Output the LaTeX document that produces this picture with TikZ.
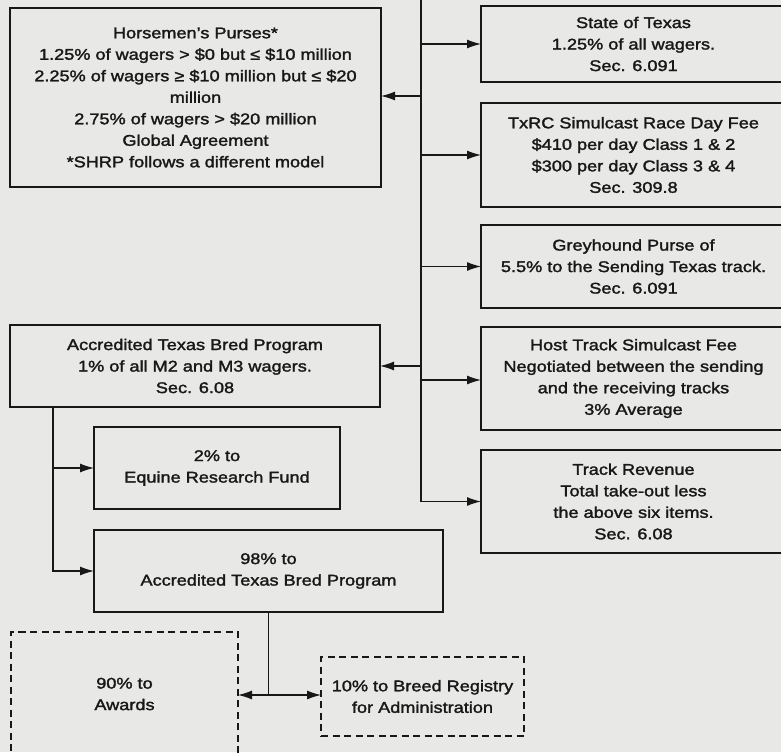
\documentclass[tikz,border=0pt]{standalone}
\usepackage{fontspec}
\setmainfont[FakeStretch=1.17,FakeBold=1.8]{Liberation Sans}
\usetikzlibrary{arrows.meta,calc}
\definecolor{paper}{RGB}{232,232,230}
\definecolor{ink}{RGB}{24,24,24}
\begin{document}
\begin{tikzpicture}[x=1pt,y=-1pt,
  txt/.style={align=center, inner sep=0pt, outer sep=0pt, text=ink, font=\fontsize{15.5}{21.5}\selectfont},
  box/.style={txt, draw=ink, line width=2pt},
  thinbox/.style={txt, draw=ink, line width=1.3pt},
  dbox/.style={txt, draw=ink, line width=1.3pt, dash pattern=on 7pt off 4.5pt},
  conn/.style={draw=ink, line width=1.2pt},
  arr/.style={conn, -{Latex[length=14pt,width=9pt]}}]
\fill[paper] (0,0) rectangle (781,752);
\useasboundingbox (0,0) rectangle (781,752);
\clip (0,0) rectangle (781,752);

% left column
\node[box, minimum width=371pt, minimum height=179pt] (hp) at (195.5,97.5)
  {Horsemen's Purses*\\
   1.25\% of wagers > \$0 but ≤ \$10 million\\
   2.25\% of wagers ≥ \$10 million but ≤ \$20\\
   million\\
   2.75\% of wagers > \$20 million\\
   Global Agreement\\
   *SHRP follows a different model};
\node[box, minimum width=370pt, minimum height=82pt] (atb) at (195,366)
  {Accredited Texas Bred Program\\ 1\% of all M2 and M3 wagers.\\ Sec. 6.08};
\node[thinbox, minimum width=246pt, minimum height=82pt] (erf) at (217,468)
  {2\% to\\ Equine Research Fund};
\node[thinbox, minimum width=349pt, minimum height=82pt] (p98) at (268.5,571)
  {98\% to\\ Accredited Texas Bred Program};
\node[dbox, minimum width=227pt, minimum height=124pt] (aw) at (124.5,694)
  {90\% to\\ Awards};
\node[dbox, minimum width=203pt, minimum height=79pt] (br) at (422.5,696.5)
  {10\% to Breed Registry\\ for Administration};

% right column
\node[box, minimum width=305pt, minimum height=76pt] (st) at (633.5,44)
  {State of Texas\\ 1.25\% of all wagers.\\ Sec. 6.091};
\node[box, minimum width=305pt, minimum height=104pt] (tx) at (633.5,155)
  {TxRC Simulcast Race Day Fee\\ \$410 per day Class 1 \& 2\\ \$300 per day Class 3 \& 4\\ Sec. 309.8};
\node[box, minimum width=305pt, minimum height=83pt] (gh) at (633.5,266.5)
  {Greyhound Purse of\\ 5.5\% to the Sending Texas track.\\ Sec. 6.091};
\node[box, minimum width=305pt, minimum height=103pt] (ht) at (633.5,378.5)
  {Host Track Simulcast Fee\\ Negotiated between the sending\\ and the receiving tracks\\ 3\% Average};
\node[box, minimum width=305pt, minimum height=103pt] (tr) at (633.5,501.5)
  {Track Revenue\\ Total take-out less\\ the above six items.\\ Sec. 6.08};

% trunk
\coordinate (top) at (421,-10);
\coordinate (bx) at (53,0);
\draw[arr] (top) |- (tr.west);
\draw[arr] (top |- st.west) -- (st.west);
\draw[arr] (top |- tx.west) -- (tx.west);
\draw[arr] (top |- gh.west) -- (gh.west);
\draw[arr] ($(top |- ht.west)+(0,1.5)$) -- ($(ht.west)+(0,1.5)$);
\draw[arr] ($(top |- hp.east)+(0,-1.5)$) -- ($(hp.east)+(0,-1.5)$);
\draw[arr] (top |- atb.east) -- (atb.east);

% ATB branch
\draw[arr] (atb.south -| bx) |- (p98.west);
\draw[arr] (bx |- erf.west) -- (erf.west);

% 98% branch
\coordinate (j) at ($(p98.south)+(0,83)$);
\draw[conn] (p98.south) -- (j);
\draw[arr] (j) -- (j -| aw.east);
\draw[arr] (j) -- (j -| br.west);
\end{tikzpicture}
\end{document}
